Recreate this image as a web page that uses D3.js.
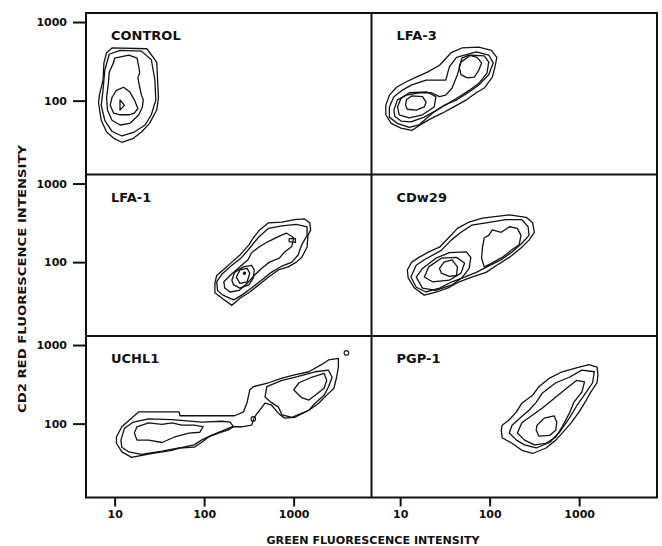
<!DOCTYPE html>
<html>
<head>
<meta charset="utf-8">
<script src="https://cdn.jsdelivr.net/npm/d3@7"></script>
<style>
  body { margin: 0; background: #fff; }
  text { font-family: "DejaVu Sans", sans-serif; font-weight: bold; fill: #111; }
</style>
</head>
<body>
<div id="chart"></div>
<script>
// contour vertices, as [log10 green, log10 red]
var panelNames = ["CONTROL", "LFA-3", "LFA-1", "CDw29", "UCHL1", "PGP-1"];
var greenTicks = [10, 100, 1000];
var redTicks = [100, 1000];

var controlRings = [
  [[0.97,2.67],[1.36,2.66],[1.47,2.49],[1.48,2.26],[1.49,2.04],[1.47,1.88],[1.39,1.71],[1.30,1.60],[1.21,1.52],[1.08,1.47],[0.99,1.52],[0.91,1.60],[0.85,1.75],[0.82,1.97],[0.83,2.07],[0.87,2.26],[0.88,2.48],[0.91,2.61]],
  [[0.94,2.59],[1.06,2.64],[1.30,2.63],[1.41,2.52],[1.45,2.26],[1.46,2.01],[1.41,1.82],[1.34,1.69],[1.22,1.60],[1.08,1.55],[0.97,1.61],[0.89,1.75],[0.85,1.94],[0.87,2.13],[0.89,2.39]],
  [[1.00,2.54],[1.16,2.58],[1.25,2.54],[1.27,2.43],[1.28,2.36],[1.26,2.29],[1.28,2.17],[1.30,2.07],[1.32,2.01],[1.31,1.92],[1.27,1.82],[1.17,1.71],[1.06,1.69],[0.97,1.75],[0.92,1.88],[0.91,2.04],[0.93,2.22],[0.94,2.36],[0.99,2.49]],
  [[0.97,2.04],[1.02,2.13],[1.10,2.17],[1.17,2.11],[1.22,2.01],[1.26,1.90],[1.22,1.84],[1.16,1.82],[1.06,1.82],[0.99,1.84],[0.95,1.94]],
  [[1.06,2.01],[1.11,1.94],[1.06,1.88]]
];

var lfa3Rings = [
  [[0.84,1.94],[0.88,2.07],[0.96,2.17],[1.07,2.24],[1.18,2.30],[1.30,2.36],[1.44,2.45],[1.57,2.61],[1.69,2.67],[1.88,2.68],[2.02,2.64],[2.08,2.55],[2.06,2.43],[2.03,2.30],[1.94,2.16],[1.85,2.10],[1.74,2.01],[1.60,1.92],[1.47,1.84],[1.36,1.78],[1.25,1.71],[1.13,1.62],[1.01,1.65],[0.90,1.71],[0.84,1.82]],
  [[0.88,1.92],[0.93,2.05],[1.02,2.13],[1.13,2.20],[1.29,2.26],[1.51,2.26],[1.55,2.43],[1.63,2.55],[1.85,2.62],[1.99,2.58],[2.04,2.48],[1.99,2.33],[1.88,2.20],[1.77,2.11],[1.63,2.01],[1.49,1.94],[1.36,1.84],[1.21,1.69],[1.10,1.66],[0.97,1.71],[0.88,1.79]],
  [[0.93,1.88],[0.97,2.01],[1.07,2.07],[1.21,2.10],[1.35,2.10],[1.44,2.05],[1.51,2.07],[1.58,2.16],[1.64,2.33],[1.68,2.49],[1.79,2.58],[1.94,2.57],[1.99,2.49],[1.97,2.35],[1.88,2.22],[1.77,2.13],[1.66,2.05],[1.53,1.96],[1.41,1.88],[1.27,1.79],[1.12,1.73],[1.01,1.74],[0.94,1.80]],
  [[0.97,1.92],[1.01,2.03],[1.10,2.10],[1.30,2.11],[1.40,2.05],[1.38,1.92],[1.25,1.82],[1.10,1.78],[0.99,1.82]],
  [[1.07,2.01],[1.13,2.06],[1.25,2.05],[1.29,1.98],[1.27,1.92],[1.18,1.88],[1.08,1.89],[1.06,1.94]],
  [[1.66,2.43],[1.69,2.54],[1.77,2.58],[1.86,2.55],[1.91,2.48],[1.88,2.39],[1.83,2.30],[1.75,2.29],[1.68,2.33]]
];

var lfa1Rings = [
  [[2.12,1.73],[2.14,1.83],[2.23,1.92],[2.31,2.00],[2.40,2.09],[2.50,2.22],[2.55,2.31],[2.62,2.41],[2.72,2.50],[2.87,2.51],[3.01,2.54],[3.12,2.55],[3.18,2.50],[3.19,2.41],[3.16,2.34],[3.15,2.19],[3.09,2.06],[3.03,2.00],[2.94,1.94],[2.83,1.90],[2.72,1.81],[2.61,1.71],[2.51,1.62],[2.40,1.54],[2.31,1.45],[2.20,1.54],[2.12,1.61]],
  [[2.14,1.75],[2.20,1.85],[2.31,1.96],[2.42,2.06],[2.51,2.18],[2.61,2.32],[2.72,2.43],[2.87,2.46],[3.03,2.48],[3.15,2.45],[3.15,2.34],[3.09,2.22],[3.05,2.09],[2.98,2.00],[2.87,1.95],[2.75,1.87],[2.64,1.77],[2.53,1.67],[2.42,1.58],[2.33,1.52],[2.21,1.58],[2.15,1.64]],
  [[2.22,1.75],[2.29,1.83],[2.40,1.94],[2.49,2.03],[2.53,2.12],[2.61,2.19],[2.68,2.24],[2.75,2.28],[2.84,2.33],[2.92,2.37],[3.00,2.31],[2.98,2.20],[2.90,2.13],[2.84,2.05],[2.73,2.00],[2.64,1.92],[2.56,1.83],[2.48,1.73],[2.39,1.64],[2.29,1.62],[2.23,1.67]],
  [[2.31,1.77],[2.34,1.87],[2.44,1.94],[2.53,1.96],[2.56,1.90],[2.55,1.80],[2.50,1.71],[2.40,1.67],[2.33,1.71]],
  [[2.36,1.81],[2.40,1.90],[2.48,1.92],[2.51,1.86],[2.48,1.75],[2.40,1.73]],
  [[2.95,2.30],[3.02,2.30],[3.02,2.25],[2.95,2.26]]
];
var lfa1Dots = [[2.45,1.86]];

var cdw29Rings = [
  [[1.08,1.90],[1.13,2.00],[1.21,2.06],[1.32,2.13],[1.44,2.19],[1.55,2.32],[1.64,2.43],[1.77,2.51],[1.92,2.56],[2.22,2.60],[2.41,2.57],[2.48,2.50],[2.50,2.38],[2.44,2.28],[2.35,2.18],[2.22,2.06],[2.08,1.96],[1.96,1.87],[1.80,1.81],[1.66,1.75],[1.55,1.68],[1.41,1.62],[1.27,1.58],[1.16,1.67],[1.09,1.80]],
  [[1.12,1.81],[1.18,1.96],[1.27,2.03],[1.46,2.15],[1.57,2.28],[1.68,2.38],[1.80,2.47],[1.96,2.50],[2.18,2.54],[2.36,2.54],[2.43,2.45],[2.44,2.34],[2.36,2.24],[2.25,2.13],[2.13,2.03],[1.97,1.94],[1.85,1.87],[1.72,1.81],[1.58,1.75],[1.44,1.67],[1.29,1.62],[1.18,1.68]],
  [[1.92,2.19],[1.94,2.31],[1.99,2.34],[2.03,2.41],[2.13,2.38],[2.22,2.45],[2.31,2.43],[2.35,2.34],[2.33,2.22],[2.24,2.15],[2.14,2.06],[2.03,1.99],[1.94,1.94],[1.91,2.05]],
  [[1.18,1.81],[1.25,1.92],[1.40,2.05],[1.55,2.12],[1.74,2.13],[1.79,2.06],[1.77,1.92],[1.69,1.80],[1.58,1.71],[1.40,1.64],[1.25,1.67]],
  [[1.27,1.81],[1.32,1.94],[1.46,2.05],[1.63,2.06],[1.72,1.99],[1.68,1.86],[1.55,1.77],[1.36,1.75]],
  [[1.44,1.92],[1.49,2.00],[1.58,2.03],[1.64,1.94],[1.63,1.83],[1.55,1.82],[1.46,1.86]]
];

var uchl1Rings = [
  [[1.02,1.83],[1.08,1.96],[1.27,2.15],[1.72,2.15],[1.73,2.10],[2.34,2.10],[2.44,2.15],[2.48,2.27],[2.51,2.43],[2.55,2.47],[2.72,2.52],[2.87,2.58],[3.01,2.62],[3.17,2.66],[3.31,2.75],[3.39,2.81],[3.50,2.83],[3.50,2.72],[3.48,2.59],[3.45,2.45],[3.35,2.34],[3.28,2.26],[3.17,2.17],[3.01,2.08],[2.90,2.07],[2.83,2.13],[2.75,2.24],[2.68,2.26],[2.56,2.08],[2.53,1.98],[2.42,1.96],[2.31,1.96],[2.23,1.92],[2.08,1.85],[1.97,1.79],[1.89,1.73],[1.73,1.69],[1.64,1.66],[1.41,1.62],[1.19,1.57],[1.08,1.64],[1.02,1.75]],
  [[1.07,1.79],[1.11,1.94],[1.21,2.02],[1.38,2.06],[1.64,2.05],[1.97,2.02],[2.20,2.03],[2.29,2.02],[2.33,1.96],[2.27,1.92],[2.16,1.88],[2.05,1.83],[1.97,1.76],[1.89,1.70],[1.72,1.69],[1.53,1.65],[1.30,1.61],[1.16,1.64],[1.08,1.70]],
  [[1.22,1.88],[1.25,1.96],[1.38,2.01],[1.53,1.99],[1.64,2.01],[1.75,1.98],[1.89,1.98],[1.99,1.96],[1.95,1.89],[1.83,1.88],[1.67,1.83],[1.53,1.76],[1.38,1.79],[1.25,1.79]],
  [[2.68,2.34],[2.70,2.47],[2.87,2.55],[3.01,2.59],[3.24,2.66],[3.39,2.68],[3.43,2.59],[3.39,2.47],[3.34,2.36],[3.24,2.26],[3.17,2.17],[2.98,2.08],[2.87,2.11],[2.83,2.21],[2.75,2.27]],
  [[3.00,2.43],[3.06,2.52],[3.20,2.59],[3.34,2.64],[3.37,2.55],[3.34,2.45],[3.24,2.36],[3.17,2.30],[3.09,2.33]]
];
var uchl1Circles = [[3.59,2.90],[2.55,2.06]];

var pgp1Rings = [
  [[2.13,1.92],[2.14,1.98],[2.22,2.05],[2.30,2.15],[2.36,2.26],[2.48,2.36],[2.55,2.47],[2.67,2.58],[2.81,2.66],[2.97,2.71],[3.11,2.75],[3.20,2.72],[3.21,2.62],[3.20,2.52],[3.13,2.40],[3.08,2.30],[3.00,2.15],[2.91,2.01],[2.81,1.88],[2.74,1.79],[2.63,1.69],[2.48,1.62],[2.36,1.66],[2.25,1.75],[2.14,1.82]],
  [[2.22,1.88],[2.25,1.98],[2.35,2.08],[2.44,2.17],[2.52,2.27],[2.59,2.39],[2.74,2.52],[2.89,2.59],[3.03,2.68],[3.17,2.66],[3.15,2.52],[3.08,2.40],[2.98,2.24],[2.89,2.07],[2.78,1.89],[2.67,1.76],[2.52,1.69],[2.39,1.73],[2.30,1.79]],
  [[2.31,1.88],[2.36,2.01],[2.48,2.11],[2.59,2.20],[2.74,2.34],[2.86,2.45],[2.97,2.55],[3.06,2.53],[3.03,2.40],[2.94,2.27],[2.89,2.13],[2.81,1.96],[2.74,1.83],[2.63,1.75],[2.50,1.73],[2.39,1.79]],
  [[2.52,1.92],[2.53,1.98],[2.61,2.07],[2.72,2.10],[2.75,2.02],[2.74,1.92],[2.67,1.85],[2.55,1.84]]
];

var W = 662, H = 546;
var margin = {top: 13, left: 86};
var panelW = 285.5, panelH = 161.5;

var svg = d3.select("#chart").append("svg")
    .attr("width", W).attr("height", H);

var x = d3.scaleLinear().domain([0.68, 3.87]).range([0, panelW]);
var y = d3.scaleLinear().domain([1.06, 3.115]).range([panelH, 0]);

var ring = d3.line()
    .x(function(d) { return x(d[0]); })
    .y(function(d) { return y(d[1]); })
    .curve(d3.curveLinearClosed);

var fmt = function(d) { return Math.round(Math.pow(10, d)); };

var panels = [controlRings, lfa3Rings, lfa1Rings, cdw29Rings, uchl1Rings, pgp1Rings];
var dotSets = [[], [], lfa1Dots, [], uchl1Circles, []];

panels.forEach(function(rings, i) {
    var col = i % 2, row = Math.floor(i / 2);
    var g = svg.append("g")
        .attr("transform", `translate(${margin.left + col * panelW},${margin.top + row * panelH})`);

    g.selectAll(".ring")
        .data(rings)
        .enter().append("path")
        .attr("class", "ring")
        .attr("d", ring)
        .attr("fill", "none")
        .attr("stroke", "#111")
        .attr("stroke-width", 1.3)
        .attr("stroke-linejoin", "round");

    g.selectAll(".dot")
        .data(dotSets[i])
        .enter().append("circle")
        .attr("class", "dot")
        .attr("cx", function(d) { return x(d[0]); })
        .attr("cy", function(d) { return y(d[1]); })
        .attr("r", i == 4 ? 2.3 : 1.2)
        .attr("fill", i == 4 ? "none" : "#111")
        .attr("stroke", "#111")
        .attr("stroke-width", 1.1);

    g.append("text")
        .attr("x", 25)
        .attr("y", 27)
        .attr("font-size", "13px")
        .text(panelNames[i]);

    if (col == 0) {
        var yAxis = g.append("g")
            .call(d3.axisLeft(y)
                .tickValues(redTicks.map(Math.log10))
                .tickSize(13).tickSizeOuter(0).tickPadding(6)
                .tickFormat(fmt));
        yAxis.select(".domain").remove();
        yAxis.selectAll("line").attr("stroke", "#111").attr("stroke-width", 2);
        yAxis.selectAll("text").attr("font-size", "11px").attr("font-family", "DejaVu Sans");
    }
    if (row == 2) {
        var xAxis = g.append("g")
            .attr("transform", `translate(0,${panelH})`)
            .call(d3.axisBottom(x)
                .tickValues(greenTicks.map(Math.log10))
                .tickSize(9).tickSizeOuter(0).tickPadding(4)
                .tickFormat(fmt));
        xAxis.select(".domain").remove();
        xAxis.selectAll("line").attr("stroke", "#111").attr("stroke-width", 2);
        xAxis.selectAll("text").attr("font-size", "11px").attr("font-family", "DejaVu Sans");
    }
});

// frame and panel dividers
svg.append("rect")
    .attr("x", margin.left).attr("y", margin.top)
    .attr("width", panelW * 2).attr("height", panelH * 3)
    .attr("fill", "none").attr("stroke", "#111").attr("stroke-width", 2);

svg.append("line")
    .attr("x1", margin.left + panelW).attr("x2", margin.left + panelW)
    .attr("y1", margin.top).attr("y2", margin.top + panelH * 3)
    .attr("stroke", "#111").attr("stroke-width", 2);

[1, 2].forEach(function(r) {
    svg.append("line")
        .attr("x1", margin.left).attr("x2", margin.left + panelW * 2)
        .attr("y1", margin.top + r * panelH).attr("y2", margin.top + r * panelH)
        .attr("stroke", "#111").attr("stroke-width", 2);
});

svg.append("text")
    .attr("x", 373).attr("y", 544)
    .attr("text-anchor", "middle")
    .attr("font-size", "11px")
    .attr("textLength", 213).attr("lengthAdjust", "spacingAndGlyphs")
    .text("GREEN FLUORESCENCE INTENSITY");

svg.append("text")
    .attr("transform", "translate(26,279) rotate(-90)")
    .attr("text-anchor", "middle")
    .attr("font-size", "11px")
    .attr("textLength", 268).attr("lengthAdjust", "spacingAndGlyphs")
    .text("CD2 RED FLUORESCENCE INTENSITY");
</script>
</body>
</html>
